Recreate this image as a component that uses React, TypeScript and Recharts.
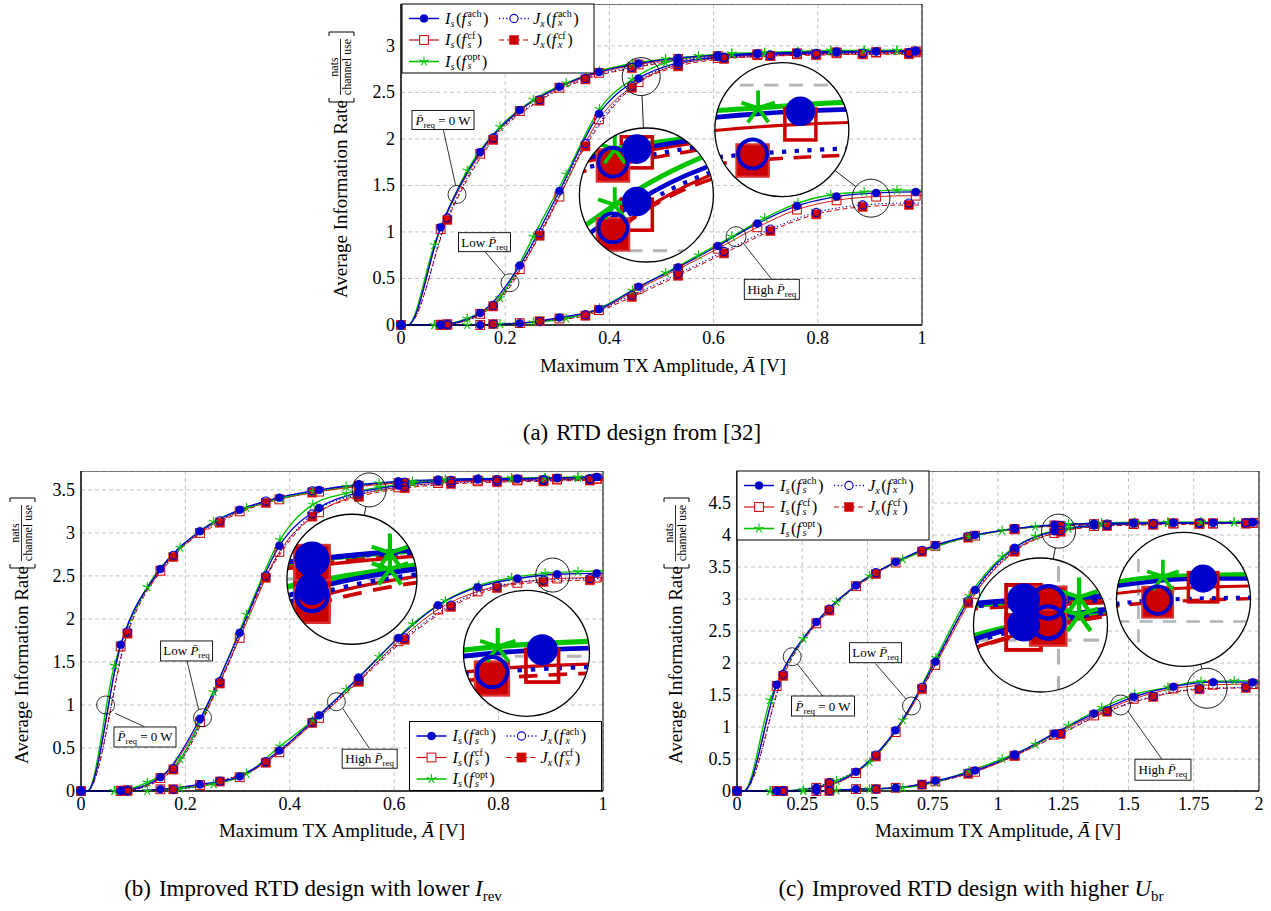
import React from 'react';
import { LineChart, Line, XAxis, YAxis, CartesianGrid, ReferenceDot, ReferenceLine, ReferenceArea } from 'recharts';

const FONT = "'Liberation Serif', 'Times New Roman', Times, serif";
const BLUE = '#0000cc';
const RED = '#cc0000';
const GREEN = '#00c400';
const GRID = '#b4b4b4';

// ================= (a) RTD design from [32] =================
const aXTicks = [0, 0.2, 0.4, 0.6, 0.8, 1];
const aYTicks = [0, 0.5, 1, 1.5, 2, 2.5, 3];
const aGridI = [0, 0.076, 0.152, 0.228, 0.304, 0.38, 0.456, 0.532, 0.608, 0.684, 0.76, 0.836, 0.912, 0.988];
const aGridJ = [0, 0.089, 0.177, 0.266, 0.354, 0.443, 0.532, 0.62, 0.709, 0.797, 0.886, 0.975];
const aGridO = [0, 0.064, 0.127, 0.19, 0.254, 0.317, 0.381, 0.444, 0.508, 0.571, 0.635, 0.698, 0.762, 0.825, 0.889, 0.952];

const aZeroIsAch = [0, 1.05, 1.86, 2.31, 2.56, 2.72, 2.81, 2.87, 2.9, 2.92, 2.93, 2.94, 2.94, 2.95];
const aZeroIsCf = [0, 1.03, 1.84, 2.3, 2.55, 2.71, 2.8, 2.86, 2.89, 2.91, 2.92, 2.93, 2.93, 2.94];
const aZeroJxAch = [0, 1.15, 2.01, 2.42, 2.65, 2.77, 2.85, 2.88, 2.9, 2.92, 2.92, 2.93];
const aZeroJxCf = [0, 1.13, 1.99, 2.41, 2.64, 2.76, 2.84, 2.87, 2.89, 2.91, 2.91, 2.92];
const aZeroOpt = [0, 0.86, 1.66, 2.13, 2.42, 2.6, 2.73, 2.81, 2.86, 2.89, 2.91, 2.92, 2.93, 2.94, 2.95, 2.95];
const aZeroEnd = [2.95, 2.94, 2.93, 2.92, 2.95];

const aLowIsAch = [0, 0.005, 0.13, 0.64, 1.44, 2.27, 2.65, 2.82, 2.88, 2.91, 2.92, 2.93, 2.94, 2.94];
const aLowIsCf = [0, 0.004, 0.12, 0.6, 1.38, 2.21, 2.61, 2.8, 2.87, 2.9, 2.91, 2.92, 2.93, 2.93];
const aLowJxAch = [0, 0.01, 0.21, 0.99, 1.95, 2.57, 2.8, 2.87, 2.9, 2.91, 2.92, 2.92];
const aLowJxCf = [0, 0.01, 0.2, 0.96, 1.92, 2.55, 2.78, 2.86, 2.89, 2.9, 2.91, 2.91];
const aLowOpt = [0, 0, 0.07, 0.29, 0.95, 1.62, 2.32, 2.64, 2.82, 2.89, 2.92, 2.93, 2.94, 2.95, 2.95, 2.95];
const aLowEnd = [2.94, 2.93, 2.92, 2.91, 2.95];

const aHighIsAch = [0, 0, 0, 0.02, 0.08, 0.17, 0.41, 0.62, 0.85, 1.09, 1.28, 1.38, 1.42, 1.43];
const aHighIsCf = [0, 0, 0, 0.02, 0.07, 0.16, 0.39, 0.6, 0.82, 1.05, 1.24, 1.34, 1.38, 1.39];
const aHighJxAch = [0, 0, 0.01, 0.04, 0.11, 0.32, 0.55, 0.79, 1.03, 1.21, 1.29, 1.31];
const aHighJxCf = [0, 0, 0.01, 0.04, 0.1, 0.3, 0.53, 0.77, 1.01, 1.19, 1.27, 1.29];
const aHighOpt = [0, 0, 0, 0.01, 0.03, 0.07, 0.18, 0.37, 0.56, 0.75, 0.95, 1.15, 1.31, 1.4, 1.43, 1.45];
const aHighEnd = [1.43, 1.39, 1.31, 1.29, 1.45];

// ================= (b) lower I_rev =================
const bXTicks = [0, 0.2, 0.4, 0.6, 0.8, 1];
const bYTicks = [0, 0.5, 1, 1.5, 2, 2.5, 3, 3.5];
const bGridI = [0, 0.076, 0.152, 0.228, 0.304, 0.38, 0.456, 0.532, 0.608, 0.684, 0.76, 0.836, 0.912, 0.988];
const bGridJ = [0, 0.089, 0.177, 0.266, 0.354, 0.443, 0.532, 0.62, 0.709, 0.797, 0.886, 0.975];
const bGridO = [0, 0.064, 0.127, 0.19, 0.254, 0.317, 0.381, 0.444, 0.508, 0.571, 0.635, 0.698, 0.762, 0.825, 0.889, 0.952];

const bZeroIsAch = [0, 1.7, 2.58, 3.02, 3.27, 3.41, 3.5, 3.56, 3.6, 3.62, 3.63, 3.63, 3.64, 3.65];
const bZeroIsCf = [0, 1.68, 2.56, 3.0, 3.25, 3.39, 3.48, 3.54, 3.58, 3.6, 3.61, 3.62, 3.63, 3.63];
const bZeroJxAch = [0, 1.85, 2.74, 3.14, 3.37, 3.49, 3.56, 3.59, 3.61, 3.62, 3.62, 3.63];
const bZeroJxCf = [0, 1.83, 2.72, 3.12, 3.35, 3.47, 3.55, 3.58, 3.6, 3.61, 3.61, 3.62];
const bZeroOpt = [0, 1.46, 2.37, 2.83, 3.13, 3.29, 3.4, 3.48, 3.54, 3.58, 3.6, 3.62, 3.63, 3.63, 3.64, 3.64];
const bZeroEnd = [3.65, 3.63, 3.63, 3.62, 3.65];

const bLowIsAch = [0, 0.005, 0.16, 0.84, 1.84, 2.85, 3.29, 3.47, 3.55, 3.6, 3.62, 3.63, 3.64, 3.65];
const bLowIsCf = [0, 0.004, 0.15, 0.8, 1.78, 2.78, 3.24, 3.44, 3.53, 3.58, 3.6, 3.61, 3.62, 3.63];
const bLowJxAch = [0, 0.01, 0.26, 1.27, 2.5, 3.22, 3.45, 3.54, 3.58, 3.6, 3.61, 3.62];
const bLowJxCf = [0, 0.01, 0.25, 1.25, 2.48, 3.19, 3.42, 3.52, 3.57, 3.59, 3.6, 3.61];
const bLowOpt = [0, 0, 0.1, 0.37, 1.15, 2.05, 2.92, 3.33, 3.46, 3.53, 3.58, 3.61, 3.63, 3.64, 3.64, 3.65];
const bLowEnd = [3.65, 3.63, 3.62, 3.61, 3.65];

const bHighIsAch = [0, 0, 0.02, 0.077, 0.17, 0.47, 0.88, 1.32, 1.78, 2.16, 2.37, 2.47, 2.52, 2.53];
const bHighIsCf = [0, 0, 0.02, 0.07, 0.16, 0.45, 0.85, 1.28, 1.74, 2.11, 2.32, 2.42, 2.47, 2.48];
const bHighJxAch = [0, 0, 0.02, 0.115, 0.34, 0.8, 1.29, 1.78, 2.16, 2.38, 2.45, 2.47];
const bHighJxCf = [0, 0, 0.02, 0.11, 0.33, 0.79, 1.27, 1.76, 2.14, 2.36, 2.43, 2.45];
const bHighOpt = [0, 0, 0, 0.03, 0.08, 0.2, 0.52, 0.82, 1.18, 1.56, 1.94, 2.21, 2.39, 2.48, 2.53, 2.55];
const bHighEnd = [2.53, 2.48, 2.47, 2.45, 2.56];

// ================= (c) higher U_br =================
const cXTicks = [0, 0.25, 0.5, 0.75, 1, 1.25, 1.5, 1.75, 2];
const cYTicks = [0, 0.5, 1, 1.5, 2, 2.5, 3, 3.5, 4, 4.5];
const cGridI = [0, 0.152, 0.304, 0.456, 0.608, 0.76, 0.912, 1.064, 1.216, 1.368, 1.52, 1.672, 1.824, 1.976];
const cGridJ = [0, 0.177, 0.354, 0.532, 0.709, 0.886, 1.063, 1.24, 1.418, 1.595, 1.772, 1.95];
const cGridO = [0, 0.127, 0.254, 0.381, 0.508, 0.635, 0.762, 0.889, 1.016, 1.143, 1.27, 1.397, 1.524, 1.651, 1.778, 1.905];

const cZeroIsAch = [0, 1.66, 2.64, 3.21, 3.58, 3.84, 4.0, 4.1, 4.16, 4.18, 4.19, 4.19, 4.19, 4.2];
const cZeroIsCf = [0, 1.64, 2.62, 3.2, 3.57, 3.83, 3.99, 4.09, 4.15, 4.17, 4.18, 4.18, 4.18, 4.19];
const cZeroJxAch = [0, 1.82, 2.84, 3.41, 3.76, 3.98, 4.1, 4.15, 4.17, 4.18, 4.19, 4.19];
const cZeroJxCf = [0, 1.8, 2.82, 3.39, 3.74, 3.96, 4.09, 4.14, 4.16, 4.17, 4.18, 4.18];
const cZeroOpt = [0, 1.42, 2.38, 2.95, 3.36, 3.62, 3.82, 3.97, 4.07, 4.13, 4.17, 4.19, 4.2, 4.2, 4.2, 4.2];
const cZeroEnd = [4.2, 4.19, 4.19, 4.18, 4.2];

const cLowIsAch = [0, 0, 0.05, 0.3, 0.95, 2.02, 3.14, 3.8, 4.06, 4.15, 4.18, 4.19, 4.19, 4.2];
const cLowIsCf = [0, 0, 0.05, 0.28, 0.92, 1.97, 3.08, 3.76, 4.03, 4.14, 4.17, 4.18, 4.18, 4.19];
const cLowJxAch = [0, 0, 0.13, 0.56, 1.62, 2.97, 3.77, 4.07, 4.15, 4.17, 4.18, 4.19];
const cLowJxCf = [0, 0, 0.12, 0.54, 1.59, 2.94, 3.74, 4.05, 4.14, 4.16, 4.17, 4.18];
const cLowOpt = [0, 0, 0.02, 0.16, 0.45, 1.11, 2.08, 3.05, 3.66, 3.98, 4.1, 4.16, 4.18, 4.19, 4.2, 4.2];
const cLowEnd = [4.2, 4.19, 4.19, 4.18, 4.2];

const cHighIsAch = [0, 0, 0, 0.03, 0.05, 0.16, 0.32, 0.57, 0.9, 1.21, 1.47, 1.63, 1.7, 1.7];
const cHighIsCf = [0, 0, 0, 0.03, 0.05, 0.15, 0.3, 0.55, 0.88, 1.18, 1.44, 1.6, 1.66, 1.67];
const cHighJxAch = [0, 0, 0, 0.03, 0.1, 0.28, 0.56, 0.9, 1.25, 1.48, 1.6, 1.62];
const cHighJxCf = [0, 0, 0, 0.03, 0.1, 0.27, 0.55, 0.89, 1.24, 1.47, 1.59, 1.61];
const cHighOpt = [0, 0, 0, 0.01, 0.03, 0.05, 0.14, 0.31, 0.5, 0.73, 1.02, 1.3, 1.51, 1.62, 1.71, 1.72];
const cHighEnd = [1.7, 1.67, 1.63, 1.61, 1.72];

// where the P=0 curves leave zero
const aZeroFoot = 0.013;
const bZeroFoot = 0.012;
const cZeroFoot = 0.026;

// ---------------- annotations (data coordinates) ----------------
const aNotes = [
  { kind: 'zero', box: [0.0806, 2.203, 62, 19], ring: [0.1075, 1.403, 9], lead: [0.0812, 2.1, 0.105, 1.497] },
  { kind: 'low', box: [0.1603, 0.89, 52, 19], ring: [0.2092, 0.4546, 9], lead: [0.1612, 0.788, 0.1996, 0.537] },
  { kind: 'high', box: [0.7117, 0.3837, 55, 20], ring: [0.643, 0.949, 10], lead: [0.657, 0.878, 0.7115, 0.491] },
];
const aMags = [
  { src: [0.461, 2.67], r: 19, at: [0.471, 1.397], R: 67 },
  { src: [0.902, 1.363], r: 19, at: [0.731, 2.1], R: 67 },
];
const bNotes = [
  { kind: 'low', box: [0.2023, 1.628, 52, 20], ring: [0.2328, 0.852, 9], lead: [0.2031, 1.512, 0.2255, 0.942] },
  { kind: 'zero', box: [0.1226, 0.628, 62, 20], ring: [0.0471, 1.0, 9], lead: [0.0651, 0.9035, 0.1215, 0.7477] },
  { kind: 'high', box: [0.553, 0.3756, 55, 19], ring: [0.4893, 1.038, 9], lead: [0.5013, 0.9616, 0.5523, 0.4965] },
];
const bMags = [
  { src: [0.552, 3.5], r: 17, at: [0.519, 2.4616], R: 65 },
  { src: [0.9036, 2.51], r: 17, at: [0.8534, 1.601], R: 63 },
];
const cNotes = [
  { kind: 'zero', box: [0.3295, 1.328, 63, 20], ring: [0.2115, 2.098, 9], lead: [0.2314, 1.984, 0.328, 1.484] },
  { kind: 'low', box: [0.5307, 2.161, 52, 20], ring: [0.6686, 1.328, 9], lead: [0.5295, 1.995, 0.6487, 1.433] },
  { kind: 'high', box: [1.632, 0.333, 56, 21], ring: [1.4697, 1.344, 10], lead: [1.4962, 1.2547, 1.6284, 0.4953] },
];
const cMags = [
  { src: [1.232, 4.06], r: 17, at: [1.1628, 2.594], R: 67 },
  { src: [1.801, 1.605], r: 20, at: [1.7107, 2.995], R: 67 },
];

// ---------------- series styles ----------------
const SERIES = [
  { key: 'isCf', grid: 'I', end: 1, stroke: RED, width: 0.9, dash: null, mark: 'so' },
  { key: 'jxCf', grid: 'J', end: 3, stroke: RED, width: 1.0, dash: [5, 3], mark: 'sf' },
  { key: 'opt', grid: 'O', end: 4, stroke: GREEN, width: 1.4, dash: null, mark: 'st' },
  { key: 'isAch', grid: 'I', end: 0, stroke: BLUE, width: 1.3, dash: null, mark: 'cf' },
  { key: 'jxAch', grid: 'J', end: 2, stroke: BLUE, width: 1.2, dash: [1.2, 2.4], mark: 'co' },
];
const SPEC: any = {};
SERIES.forEach((s) => { SPEC[s.key] = s; });

function fam(isAch, isCf, jxAch, jxCf, opt, end, foot) {
  return { isAch, isCf, jxAch, jxCf, opt, end, foot };
}

const PANELS = [
  {
    id: 'a', L: 401, T: 4, W: 521, H: 321, xMax: 1, yMax: 3.45, xTicks: aXTicks, yTicks: aYTicks,
    grids: { I: aGridI, J: aGridJ, O: aGridO },
    fams: [
      fam(aZeroIsAch, aZeroIsCf, aZeroJxAch, aZeroJxCf, aZeroOpt, aZeroEnd, aZeroFoot),
      fam(aLowIsAch, aLowIsCf, aLowJxAch, aLowJxCf, aLowOpt, aLowEnd, null),
      fam(aHighIsAch, aHighIsCf, aHighJxAch, aHighJxCf, aHighOpt, aHighEnd, null),
    ],
    notes: aNotes, mags: aMags, legend: [402, 4], yLabel: [341, 165], xLabel: [663, 372],
  },
  {
    id: 'b', L: 81, T: 471, W: 522, H: 320, xMax: 1, yMax: 3.72, xTicks: bXTicks, yTicks: bYTicks,
    grids: { I: bGridI, J: bGridJ, O: bGridO },
    fams: [
      fam(bZeroIsAch, bZeroIsCf, bZeroJxAch, bZeroJxCf, bZeroOpt, bZeroEnd, bZeroFoot),
      fam(bLowIsAch, bLowIsCf, bLowJxAch, bLowJxCf, bLowOpt, bLowEnd, null),
      fam(bHighIsAch, bHighIsCf, bHighJxAch, bHighJxCf, bHighOpt, bHighEnd, null),
    ],
    notes: bNotes, mags: bMags, legend: [409.5, 721.5], yLabel: [22, 631], xLabel: [342, 837],
  },
  {
    id: 'c', L: 737, T: 471, W: 522, H: 320, xMax: 2, yMax: 5, xTicks: cXTicks, yTicks: cYTicks,
    grids: { I: cGridI, J: cGridJ, O: cGridO },
    fams: [
      fam(cZeroIsAch, cZeroIsCf, cZeroJxAch, cZeroJxCf, cZeroOpt, cZeroEnd, cZeroFoot),
      fam(cLowIsAch, cLowIsCf, cLowJxAch, cLowJxCf, cLowOpt, cLowEnd, null),
      fam(cHighIsAch, cHighIsCf, cHighJxAch, cHighJxCf, cHighOpt, cHighEnd, null),
    ],
    notes: cNotes, mags: cMags, legend: [737, 471], yLabel: [676, 631], xLabel: [998, 837],
  },
];

function buildPoints(xs, ys, foot, xEnd, yEnd) {
  const out = [];
  for (let i = 0; i < xs.length; i++) {
    out.push({ x: xs[i], y: ys[i], m: true });
    if (i === 0 && foot != null && xs.length > 1 && foot < xs[1]) out.push({ x: foot, y: 0, m: false });
  }
  if (xEnd > xs[xs.length - 1] + 1e-9) out.push({ x: xEnd, y: yEnd, m: false });
  return out;
}

function panelSeries(p) {
  const res = [];
  SERIES.forEach((s) => {
    p.fams.forEach((f, fi) => {
      res.push({ id: `${p.id}-${fi}-${s.key}`, spec: s, data: buildPoints(p.grids[s.grid], f[s.key], f.foot, p.xMax, f.end[s.end]) });
    });
  });
  return res;
}

function Mark({ mark, cx, cy, s, legend }: any) {
  if (mark === 'cf') return <circle cx={cx} cy={cy} r={4 * s} fill={BLUE} stroke={BLUE} strokeWidth={0.4 * s} />;
  if (mark === 'co') return <circle cx={cx} cy={cy} r={4.1 * s} fill={legend ? '#fff' : 'none'} stroke={BLUE} strokeWidth={1.1 * s} />;
  if (mark === 'so') {
    const h = 4.4 * s;
    return <rect x={cx - h} y={cy - h} width={2 * h} height={2 * h} fill={legend ? '#fff' : 'none'} stroke={RED} strokeWidth={1 * s} />;
  }
  if (mark === 'sf') {
    const h = 4.6 * s;
    return <rect x={cx - h} y={cy - h} width={2 * h} height={2 * h} fill={RED} stroke="#dd3333" strokeWidth={0.6 * s} />;
  }
  const L = 5 * s;
  const arms = [0, 1, 2, 3, 4].map((k) => {
    const a = ((-90 + 72 * k) * Math.PI) / 180;
    return [cx + L * Math.cos(a), cy + L * Math.sin(a)];
  });
  return (
    <g>
      {arms.map((pt, i) => (
        <line key={i} x1={cx} y1={cy} x2={pt[0]} y2={pt[1]} stroke={GREEN} strokeWidth={1.1 * s} />
      ))}
    </g>
  );
}

function renderDot(d, mark, s) {
  const k = `m-${d && d.index}`;
  if (!d || !d.payload || !d.payload.m || typeof d.cx !== 'number' || typeof d.cy !== 'number') return <g key={k} />;
  return <Mark key={k} mark={mark} cx={d.cx} cy={d.cy} s={s} />;
}

function renderLines(series, s) {
  return series.map((ser) => {
    const sp = ser.spec;
    return (
      <Line
        key={ser.id}
        data={ser.data}
        dataKey="y"
        type="monotone"
        stroke={sp.stroke}
        strokeWidth={sp.width * s}
        strokeDasharray={sp.dash ? sp.dash.map((v) => v * s).join(' ') : undefined}
        dot={(d) => renderDot(d, sp.mark, s)}
        activeDot={false}
        isAnimationActive={false}
        legendType="none"
      />
    );
  });
}

function NoteBox({ cx, cy, w, h, kind }: any) {
  return (
    <g>
      <rect x={cx - w / 2} y={cy - h / 2} width={w} height={h} fill="#fff" stroke="#000" strokeWidth={0.9} />
      <text x={cx} y={cy + 4.5} textAnchor="middle" fontFamily={FONT} style={{ fontFamily: FONT }} fontSize={13} fill="#000">
        {kind === 'low' ? 'Low ' : kind === 'high' ? 'High ' : null}
        <tspan fontStyle="italic">{'P\u0304'}</tspan>
        <tspan fontSize={9} dy={3}>req</tspan>
        {kind === 'zero' ? <tspan dy={-3}> = 0 W</tspan> : null}
      </text>
    </g>
  );
}

const fmt = (v) => String(v);

function MainChart({ p }: any) {
  const YW = 40;
  const XH = 30;
  const MR = 12;
  const series = panelSeries(p);
  const pxX = p.W / p.xMax;
  const pxY = p.H / p.yMax;
  return (
    <div style={{ position: 'absolute', left: p.L - YW, top: p.T }}>
      <LineChart width={p.W + YW + MR} height={p.H + XH} margin={{ top: 0, right: MR, bottom: 0, left: 0 }}>
        <CartesianGrid stroke={GRID} strokeDasharray="4 3" strokeWidth={0.8} />
        <XAxis
          type="number" dataKey="x" domain={[0, p.xMax]} ticks={p.xTicks} interval={0} height={XH}
          tickSize={0} tickMargin={4} tickLine={false} axisLine={{ stroke: '#000' }}
          tick={(t) => (
            <text x={t.x} y={t.y} dy={15} textAnchor="middle" fontFamily={FONT} style={{ fontFamily: FONT }} fontSize={18} fill="#000">{fmt(t.payload.value)}</text>
          )}
        />
        <YAxis
          type="number" domain={[0, p.yMax]} ticks={p.yTicks} interval={0} width={YW}
          tickSize={0} tickMargin={6} tickLine={false} axisLine={{ stroke: '#000' }}
          tick={(t) => (
            <text x={t.x} y={t.y} dy={6} textAnchor="end" fontFamily={FONT} style={{ fontFamily: FONT }} fontSize={18} fill="#000">{fmt(t.payload.value)}</text>
          )}
        />
        <ReferenceArea x1={0} x2={p.xMax} y1={0} y2={p.yMax} fill="none" fillOpacity={0} stroke="#000" strokeWidth={1} ifOverflow="visible" />
        {renderLines(series, 1)}
        {p.notes.map((n, i) => (
          <ReferenceLine key={`ln${i}`} segment={[{ x: n.lead[0], y: n.lead[1] }, { x: n.lead[2], y: n.lead[3] }]} stroke="#000" strokeWidth={0.8} />
        ))}
        {p.notes.map((n, i) => (
          <ReferenceDot key={`rg${i}`} x={n.ring[0]} y={n.ring[1]} r={n.ring[2]} fill="none" fillOpacity={0} stroke="#000" strokeWidth={0.8} />
        ))}
        {p.notes.map((n, i) => (
          <ReferenceDot key={`bx${i}`} x={n.box[0]} y={n.box[1]} r={2}
            shape={(sp) => <NoteBox cx={sp.cx} cy={sp.cy} w={n.box[2]} h={n.box[3]} kind={n.kind} />} />
        ))}
        {p.mags.map((m, i) => (
          <ReferenceDot key={`ms${i}`} x={m.src[0]} y={m.src[1]} r={m.r} fill="none" fillOpacity={0} stroke="#000" strokeWidth={0.9} />
        ))}
        {p.mags.map((m, i) => {
          const dx = (m.at[0] - m.src[0]) * pxX;
          const dy = (m.at[1] - m.src[1]) * pxY;
          const d = Math.hypot(dx, dy);
          const t1 = m.r / d;
          const t2 = 1 - m.R / d;
          if (t2 <= t1) return null;
          const P = (t) => ({ x: m.src[0] + (m.at[0] - m.src[0]) * t, y: m.src[1] + (m.at[1] - m.src[1]) * t });
          return <ReferenceLine key={`mc${i}`} segment={[P(t1), P(t2)]} stroke="#000" strokeWidth={0.9} />;
        })}
      </LineChart>
    </div>
  );
}

function Magnifier({ p, m }: any) {
  const pxX = p.W / p.xMax;
  const pxY = p.H / p.yMax;
  const cx = p.L + m.at[0] * pxX;
  const cy = p.T + p.H - m.at[1] * pxY;
  const s = m.R / m.r;
  const hx = m.r / pxX;
  const hy = m.r / pxY;
  const size = 2 * m.R;
  const series = panelSeries(p);
  return (
    <div style={{ position: 'absolute', left: cx - m.R, top: cy - m.R, width: size, height: size, borderRadius: '50%', overflow: 'hidden', background: '#fff' }}>
      <LineChart width={size} height={size} margin={{ top: 0, right: 0, bottom: 0, left: 0 }}>
        <XAxis type="number" dataKey="x" domain={[m.src[0] - hx, m.src[0] + hx]} hide allowDataOverflow />
        <YAxis type="number" domain={[m.src[1] - hy, m.src[1] + hy]} hide allowDataOverflow />
        {p.xTicks.map((v) => (
          <ReferenceLine key={`gx${v}`} x={v} stroke={GRID} strokeWidth={0.8 * s} strokeDasharray={`${4 * s} ${3 * s}`} />
        ))}
        {p.yTicks.map((v) => (
          <ReferenceLine key={`gy${v}`} y={v} stroke={GRID} strokeWidth={0.8 * s} strokeDasharray={`${4 * s} ${3 * s}`} />
        ))}
        {renderLines(series, s)}
      </LineChart>
    </div>
  );
}

function MathLabel({ x, y, A, a, sup }: any) {
  const subW = (a === 's' ? 0.389 : 0.444) * 10;
  return (
    <text x={x} y={y} fontFamily={FONT} style={{ fontFamily: FONT }} fontSize={16.5} fill="#000">
      <tspan fontStyle="italic">{A}</tspan>
      <tspan fontSize={10} fontStyle="italic" dy={3}>{a}</tspan>
      <tspan dy={-3} dx={1.5}>(</tspan>
      <tspan fontStyle="italic">f</tspan>
      <tspan fontSize={10} fontStyle="italic" dy={2.8} dx={1.5}>{a}</tspan>
      <tspan fontSize={10} dy={-9.3} dx={-subW}>{sup}</tspan>
      <tspan dy={6.5} dx={1.5}>)</tspan>
    </text>
  );
}

function LegendSym({ x1, x2, y, spec }: any) {
  return (
    <g>
      <line x1={x1} y1={y} x2={x2} y2={y} stroke={spec.stroke} strokeWidth={spec.width + 0.2} strokeDasharray={spec.dash ? spec.dash.join(' ') : undefined} />
      <Mark mark={spec.mark} cx={(x1 + x2) / 2} cy={y} s={1} legend />
    </g>
  );
}

function LegendBox({ x, y }: any) {
  const r1 = y + 14.5;
  const r2 = y + 36;
  const r3 = y + 57.5;
  return (
    <g>
      <rect x={x} y={y} width={192} height={69} fill="#fff" stroke="#000" strokeWidth={1} />
      <LegendSym x1={x + 7} x2={x + 37} y={r1} spec={SPEC.isAch} />
      <MathLabel x={x + 43} y={r1 + 5} A="I" a="s" sup="ach" />
      <LegendSym x1={x + 97} x2={x + 127} y={r1} spec={SPEC.jxAch} />
      <MathLabel x={x + 131} y={r1 + 5} A="J" a="x" sup="ach" />
      <LegendSym x1={x + 7} x2={x + 37} y={r2} spec={SPEC.isCf} />
      <MathLabel x={x + 43} y={r2 + 5} A="I" a="s" sup="cf" />
      <LegendSym x1={x + 97} x2={x + 127} y={r2} spec={SPEC.jxCf} />
      <MathLabel x={x + 131} y={r2 + 5} A="J" a="x" sup="cf" />
      <LegendSym x1={x + 7} x2={x + 37} y={r3} spec={SPEC.opt} />
      <MathLabel x={x + 43} y={r3 + 5} A="I" a="s" sup="opt" />
    </g>
  );
}

function YLabel({ x, y }: any) {
  return (
    <g transform={`translate(${x},${y}) rotate(-90)`} fontFamily={FONT} style={{ fontFamily: FONT }} fill="#000">
      <text x={-133} y={6} fontSize={19}>Average Information Rate</text>
      <path d="M 67 -12 h -4 v 25 h 4" fill="none" stroke="#000" strokeWidth={1} />
      <text x={98} y={-3.5} fontSize={12} textAnchor="middle">nats</text>
      <line x1={70} x2={126} y1={-0.5} y2={-0.5} stroke="#000" strokeWidth={0.8} />
      <text x={98} y={10} fontSize={12} textAnchor="middle">channel use</text>
      <path d="M 129 -12 h 4 v 25 h -4" fill="none" stroke="#000" strokeWidth={1} />
    </g>
  );
}

function XLabel({ x, y }: any) {
  return (
    <text x={x} y={y} textAnchor="middle" fontFamily={FONT} style={{ fontFamily: FONT }} fontSize={19} fill="#000">
      Maximum TX Amplitude, <tspan fontStyle="italic">{'\u0100'}</tspan> [V]
    </text>
  );
}

export default function App() {
  return (
    <div style={{ position: 'absolute', left: 0, top: 0, width: 1271, height: 911, background: '#fff', overflow: 'hidden', fontFamily: FONT }}>
      {PANELS.map((p) => <MainChart key={p.id} p={p} />)}
      {PANELS.map((p) => p.mags.map((m, i) => <Magnifier key={`${p.id}-mag${i}`} p={p} m={m} />))}
      <svg width={1271} height={911} style={{ position: 'absolute', left: 0, top: 0, pointerEvents: 'none' }}>
        {PANELS.map((p) => (
          <g key={`ov-${p.id}`}>
            {p.mags.map((m, i) => {
              const cx = p.L + m.at[0] * (p.W / p.xMax);
              const cy = p.T + p.H - m.at[1] * (p.H / p.yMax);
              return <circle key={i} cx={cx} cy={cy} r={m.R} fill="none" stroke="#000" strokeWidth={1.3} />;
            })}
            <LegendBox x={p.legend[0]} y={p.legend[1]} />
            <YLabel x={p.yLabel[0]} y={p.yLabel[1]} />
            <XLabel x={p.xLabel[0]} y={p.xLabel[1]} />
          </g>
        ))}
        <text x={642} y={440} textAnchor="middle" fontFamily={FONT} style={{ fontFamily: FONT }} fontSize={23} fill="#000">
          (a)<tspan dx={8}>RTD design from [32]</tspan>
        </text>
        <text x={313} y={896} textAnchor="middle" fontFamily={FONT} style={{ fontFamily: FONT }} fontSize={23} fill="#000">
          (b)<tspan dx={8}>Improved RTD design with lower </tspan>
          <tspan fontStyle="italic">I</tspan>
          <tspan fontSize={15} dy={5}>rev</tspan>
        </text>
        <text x={971} y={896} textAnchor="middle" fontFamily={FONT} style={{ fontFamily: FONT }} fontSize={23} fill="#000">
          (c)<tspan dx={8}>Improved RTD design with higher </tspan>
          <tspan fontStyle="italic">U</tspan>
          <tspan fontSize={15} dy={5}>br</tspan>
        </text>
      </svg>
    </div>
  );
}
